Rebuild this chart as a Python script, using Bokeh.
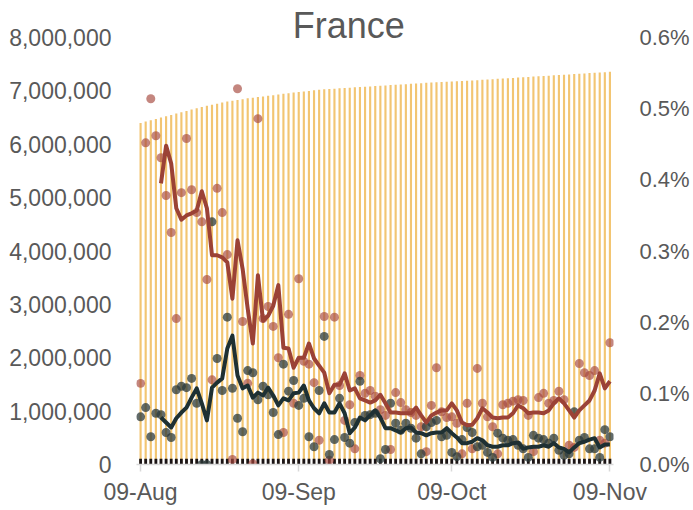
from bokeh.plotting import figure
from bokeh.models import (Range1d, LinearAxis, FixedTicker, NumeralTickFormatter,
                          PrintfTickFormatter, Label)
from bokeh.embed import file_html
from bokeh.resources import INLINE

# ---- data -------------------------------------------------------------
tick_days = [0, 31, 61, 92]
tick_labels = ["09-Aug", "09-Sep", "09-Oct", "09-Nov"]

days = list(range(93))  # day index from 09-Aug

cumulative = [
    6400000, 6425000, 6450000, 6475000, 6500000, 6525000, 6550000, 6575000, 6600000, 6625000,
    6650000, 6675000, 6700000, 6720000, 6740000, 6760000, 6780000, 6800000, 6815000, 6830000,
    6845000, 6860000, 6872000, 6884000, 6896000, 6908000, 6920000, 6932000, 6944000, 6956000,
    6968000, 6980000, 6990000, 7000000, 7010000, 7020000, 7030000, 7036000, 7042000, 7048000,
    7054000, 7060000, 7066000, 7072000, 7078000, 7084000, 7090000, 7096000, 7102000, 7108000,
    7114000, 7120000, 7126000, 7132000, 7138000, 7144000, 7150000, 7155000, 7160000, 7165000,
    7170000, 7175000, 7180000, 7185000, 7190000, 7195000, 7201000, 7207000, 7213000, 7219000,
    7225000, 7231000, 7237000, 7243000, 7249000, 7255000, 7261000, 7267000, 7273000, 7279000,
    7285000, 7291000, 7297000, 7303000, 7309000, 7315000, 7321000, 7327000, 7333000, 7339000,
    7345000, 7351000, 7358000]

daily_black = [
    110000, 110000, 110000, 110000, 110000, 110000, 110000, 110000, 110000, 110000,
    110000, 110000, 110000, 110000, 110000, 110000, 110000, 110000, 110000, 110000,
    110000, 110000, 110000, 110000, 110000, 110000, 110000, 110000, 110000, 110000,
    110000, 110000, 110000, 110000, 110000, 110000, 110000, 110000, 110000, 110000,
    110000, 110000, 110000, 110000, 110000, 110000, 110000, 110000, 110000, 110000,
    110000, 110000, 110000, 110000, 110000, 110000, 110000, 110000, 110000, 110000,
    110000, 110000, 110000, 110000, 110000, 110000, 110000, 110000, 110000, 110000,
    110000, 110000, 110000, 110000, 110000, 110000, 110000, 110000, 110000, 110000,
    110000, 110000, 110000, 110000, 110000, 110000, 110000, 110000, 110000, 110000,
    110000, 110000, 110000]

red_pct = [
    0.114, 0.452, 0.514, 0.462, 0.431, 0.378, 0.326, 0.205, 0.382, 0.458,
    0.386, 0.354, 0.341, 0.260, 0.119, 0.388, 0.354, 0.295, 0.007, 0.528,
    0.201, 0.114, 0.001, 0.486, 0.205, 0.222, 0.194, 0.150, 0.045, 0.211,
    0.086, 0.261, 0.145, 0.141, 0.115, 0.034, 0.208, 0.006, 0.207, 0.111,
    0.062, 0.084, 0.022, 0.125, 0.100, 0.104, 0.096, 0.077, 0.069, 0.021,
    0.101, 0.087, 0.077, 0.073, 0.069, 0.053, 0.018, 0.083, 0.136, 0.074,
    0.066, 0.067, 0.058, 0.015, 0.086, 0.022, 0.135, 0.086, 0.067, 0.053,
    0.015, 0.084, 0.086, 0.089, 0.091, 0.090, 0.069, 0.018, 0.094, 0.100,
    0.086, 0.090, 0.103, 0.091, 0.027, 0.024, 0.142, 0.129, 0.125, 0.132,
    0.034, 0.030, 0.171]

dark_pct = [
    0.067, 0.080, 0.039, 0.072, 0.070, 0.045, 0.038, 0.105, 0.110, 0.108,
    0.121, 0.086, 0.000, 0.000, 0.341, 0.149, 0.104, 0.207, 0.107, 0.065,
    0.046, 0.132, 0.129, 0.091, 0.110, 0.098, 0.073, 0.042, 0.141, 0.103,
    0.118, 0.083, 0.093, 0.039, 0.025, 0.104, 0.180, 0.014, 0.035, 0.093,
    0.038, 0.030, 0.059, 0.117, 0.069, 0.070, 0.072, 0.008, 0.021, 0.086,
    0.058, 0.048, 0.058, 0.051, 0.037, 0.015, 0.053, 0.059, 0.062, 0.039,
    0.041, 0.017, 0.011, 0.035, 0.052, 0.045, 0.025, 0.027, 0.017, 0.010,
    0.044, 0.037, 0.034, 0.035, 0.027, 0.022, 0.010, 0.041, 0.037, 0.035,
    0.030, 0.037, 0.020, 0.013, 0.015, 0.074, 0.034, 0.038, 0.022, 0.022,
    0.010, 0.049, 0.039]

avg_days = list(range(4, 93))
red_avg = [
    0.395, 0.448, 0.423, 0.360, 0.344, 0.350, 0.353, 0.357, 0.384, 0.360,
    0.294, 0.294, 0.291, 0.284, 0.233, 0.315, 0.275, 0.219, 0.170, 0.266,
    0.202, 0.209, 0.223, 0.252, 0.164, 0.163, 0.136, 0.150, 0.150, 0.170,
    0.149, 0.139, 0.129, 0.100, 0.112, 0.112, 0.128, 0.104, 0.107, 0.093,
    0.090, 0.087, 0.090, 0.098, 0.086, 0.073, 0.073, 0.072, 0.072, 0.072,
    0.080, 0.069, 0.059, 0.069, 0.073, 0.076, 0.076, 0.086, 0.076, 0.059,
    0.055, 0.056, 0.065, 0.079, 0.073, 0.066, 0.065, 0.066, 0.066, 0.072,
    0.083, 0.079, 0.072, 0.073, 0.073, 0.072, 0.076, 0.086, 0.093, 0.086,
    0.076, 0.066, 0.076, 0.083, 0.090, 0.104, 0.128, 0.107, 0.117]
dark_avg = [
    0.066, 0.059, 0.052, 0.065, 0.073, 0.080, 0.094, 0.107, 0.086, 0.062,
    0.108, 0.115, 0.121, 0.163, 0.181, 0.125, 0.107, 0.111, 0.094, 0.101,
    0.097, 0.108, 0.097, 0.083, 0.093, 0.090, 0.100, 0.101, 0.111, 0.090,
    0.079, 0.072, 0.086, 0.073, 0.073, 0.086, 0.072, 0.044, 0.052, 0.066,
    0.062, 0.069, 0.076, 0.066, 0.051, 0.051, 0.048, 0.045, 0.051, 0.052,
    0.045, 0.044, 0.041, 0.044, 0.045, 0.045, 0.051, 0.044, 0.038, 0.030,
    0.030, 0.032, 0.037, 0.034, 0.027, 0.025, 0.025, 0.027, 0.027, 0.030,
    0.031, 0.022, 0.024, 0.025, 0.025, 0.027, 0.025, 0.030, 0.024, 0.022,
    0.017, 0.024, 0.030, 0.032, 0.035, 0.037, 0.024, 0.028, 0.028]

left_ticks = [0, 1000000, 2000000, 3000000, 4000000, 5000000, 6000000, 7000000, 8000000]
right_ticks = [0.0, 0.1, 0.2, 0.3, 0.4, 0.5, 0.6]

# ---- styling ------------------------------------------------------------
FONT = "Liberation Sans"
TXT = "#595959"
TICK_PX = "23px"

W, H = 693, 508
TOP, BOTTOM, LEFT, RIGHT = 2, 44, 136, 80
frame_h = H - TOP - BOTTOM          # pixels covering 0 .. y_max
y_max = 8000000 * frame_h / 427.0   # 8,000,000 sits 427 px above zero
pct_max = 0.6 * frame_h / 427.0

p = figure(width=W, height=H, output_backend="svg", toolbar_location=None,
           x_range=Range1d(-0.8, 92.7), y_range=Range1d(0, y_max),
           min_border_left=LEFT, min_border_right=RIGHT, min_border_top=TOP,
           min_border_bottom=BOTTOM)
p.extra_y_ranges = {"pct": Range1d(0, pct_max)}
p.outline_line_color = None
p.xgrid.grid_line_color = None
p.ygrid.grid_line_color = None
p.background_fill_color = "white"
p.border_fill_color = "white"

# bars
p.vbar(x=days, top=cumulative, width=0.42, fill_color="#F2C572", line_color=None)
p.vbar(x=days, top=daily_black, width=0.55, fill_color="#1A1416", line_color=None)

# dots
p.scatter(x=days, y=red_pct, y_range_name="pct", size=9, fill_color="#A5473C",
          fill_alpha=0.66, line_color=None)
p.scatter(x=days, y=dark_pct, y_range_name="pct", size=9, fill_color="#2C3A39",
          fill_alpha=0.75, line_color=None)

# moving-average lines
p.line(x=avg_days, y=red_avg, y_range_name="pct", line_color="#9B4236", line_width=4,
       line_join="round")
p.line(x=avg_days, y=dark_avg, y_range_name="pct", line_color="#1E3033", line_width=4,
       line_join="round")

# axes
xa = p.xaxis[0]
xa.ticker = FixedTicker(ticks=tick_days)
xa.major_label_overrides = {d: l for d, l in zip(tick_days, tick_labels)}
xa.axis_line_color = "#D9D9D9"
xa.axis_line_width = 1.5
xa.major_tick_line_color = "#D9D9D9"
xa.major_tick_line_width = 1.5
xa.major_tick_out = 7
xa.major_tick_in = 0
xa.minor_tick_line_color = None
xa.major_label_standoff = 7
xa.major_label_text_font = FONT
xa.major_label_text_font_size = TICK_PX
xa.major_label_text_color = TXT

ya = p.yaxis[0]
ya.ticker = FixedTicker(ticks=left_ticks)
ya.formatter = NumeralTickFormatter(format="0,0")
ya.axis_line_color = None
ya.major_tick_line_color = None
ya.minor_tick_line_color = None
ya.major_label_standoff = 19
ya.major_label_text_font = FONT
ya.major_label_text_font_size = TICK_PX
ya.major_label_text_color = TXT

ra = LinearAxis(y_range_name="pct", ticker=FixedTicker(ticks=right_ticks),
                formatter=PrintfTickFormatter(format="%.1f%%"))
ra.axis_line_color = None
ra.major_tick_line_color = None
ra.minor_tick_line_color = None
ra.major_label_standoff = 20
ra.major_label_text_font = FONT
ra.major_label_text_font_size = "22px"
ra.major_label_text_color = TXT
p.add_layout(ra, "right")

# title inside the (extended) frame, centred over the whole chart
title = Label(x=40.8, y=8000000 + 12 * 8000000 / 427.0, text="France", text_font=FONT,
              text_font_size="36px", text_color=TXT, text_align="center",
              text_baseline="middle")
p.add_layout(title)

open("out.html", "w").write(file_html(p, INLINE))
